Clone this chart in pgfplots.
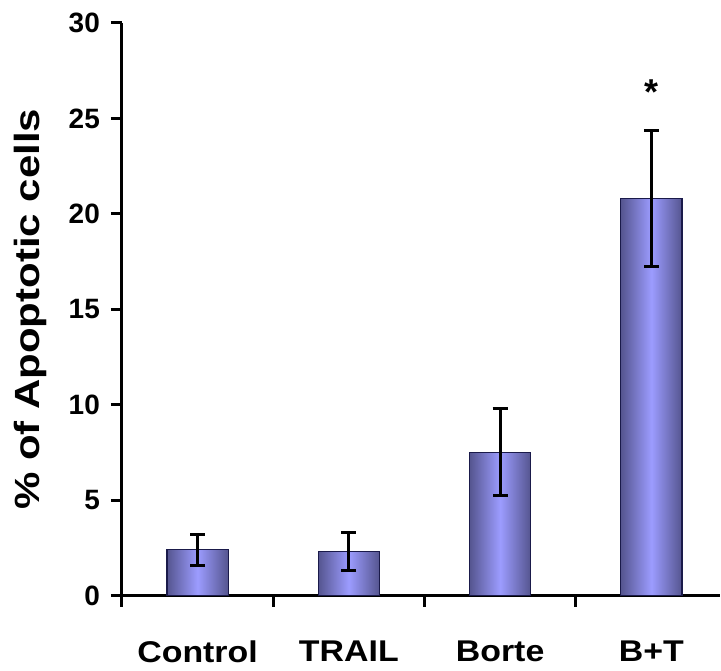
\documentclass[border=0pt]{standalone}
\usepackage{pgfplots}
\pgfplotsset{compat=1.18}
\usepackage{fontspec}
\setmainfont{Liberation Sans}
\newfontfamily\widefont[FakeStretch=1.13]{Liberation Sans}
\newfontfamily\ylabfont[FakeStretch=1.2]{Liberation Sans}
\definecolor{barmid}{HTML}{9C9CFF}
\definecolor{baredge}{HTML}{55558F}
\definecolor{barline}{HTML}{1A1A4A}
\pgfplotsset{
  mybar/.style={ybar, bar width=0.405, draw=barline, line width=0.6pt,
    left color=baredge, right color=baredge, middle color=barmid,
    error bars/.cd, y dir=both, y explicit,
    error bar style={line width=1.5pt, black},
    error mark options={line width=1.5pt, black, mark size=3.75pt, rotate=90}},
}
\begin{document}
\begin{tikzpicture}
\begin{axis}[
  scale only axis,
  width=299pt, height=286.5pt,
  xmin=-0.5, xmax=3.45,
  ymin=0, ymax=30,
  axis lines=left,
  axis line style={-, line width=1.5pt},
  every tick/.style={black, line width=1.5pt},
  tick align=outside,
  major tick length=5.5pt,
  ytick={0,5,10,15,20,25,30},
  xtick={-0.5,0.5,1.5,2.5},
  xticklabels={},
  extra x ticks={0,1,2,3},
  extra x tick labels={Control,TRAIL,Borte,B+T},
  extra x tick style={major tick length=0pt, tick label style={font=\widefont\fontsize{15}{15}\selectfont\bfseries, yshift=-19pt}},
  /pgf/number format/assume math mode=true,
  yticklabel style={font=\fontsize{14}{14}\selectfont\bfseries, xshift=-2pt},
  ylabel={\% of Apoptotic cells},
  ylabel style={font=\ylabfont\fontsize{17.5}{17.5}\selectfont\bfseries, yshift=4pt},
  clip=false,
]
\addplot[mybar] coordinates {(0,2.40) +- (0,0.82)};
\addplot[mybar] coordinates {(1,2.30) +- (0,1.00)};
\addplot[mybar] coordinates {(2,7.50) +- (0,2.28)};
\addplot[mybar] coordinates {(3,20.80) +- (0,3.58)};
\node[font=\fontsize{18}{18}\selectfont\bfseries] at (axis cs:3,26.4) {*};
\coordinate (o) at (rel axis cs:0,0);
\end{axis}
\path (o) ++(-61pt,-37.5pt) rectangle ++(360.5pt,335.5pt);
\end{tikzpicture}
\end{document}
